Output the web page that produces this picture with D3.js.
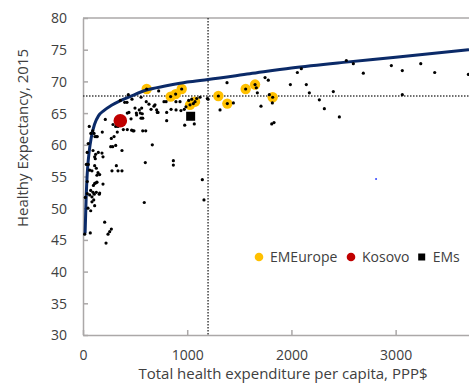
<!DOCTYPE html>
<html>
<head>
<meta charset="utf-8">
<script src="https://cdn.jsdelivr.net/npm/d3@7"></script>
<style>
  html, body { margin: 0; padding: 0; background: #fff; }
  svg { display: block; font-family: "Open Sans", "Noto Sans", sans-serif; }
</style>
</head>
<body>
<svg id="chart" width="469" height="387"></svg>
<script>
// Total health expenditure per capita (PPP$) vs healthy life expectancy, 2015
const allCountries = [
  [16,45.9],[70,46.1],[240,45.9],[256,46.3],[272,46.7],[208,47.8],[221,44.5],
  [48,50.0],[74,49.6],[112,50.4],[22,51.7],[86,51.0],[103,51.3],[86,51.8],[64,52.1],
  [74,52.8],[96,52.5],[128,52.5],[160,52.4],[41,52.3],[108,52.2],[156,52.2],
  [41,54.2],[112,53.9],[134,54.1],[192,53.8],[125,54.0],[100,53.6],
  [32,56.9],[64,56.0],[86,55.9],[112,56.7],[128,56.3],[144,55.6],[160,55.3],[134,55.2],[51,56.9],
  [96,59.1],[112,58.1],[118,57.8],[182,58.7],[192,58.1],[121,58.5],[147,58.8],[40,58.8],[50,60.2],
  [266,59.7],[314,59.9],[374,59.1],[285,59.7],
  [320,56.7],[278,55.9],[336,55.9],[374,55.9],
  [665,60.0],[598,57.2],[867,57.5],[867,56.8],[1145,54.5],[1161,51.3],[588,50.9],
  [93,62.2],[115,61.3],[137,61.3],[185,62.0],[128,61.3],[60,62.9],[75,61.8],[106,61.8],
  [214,64.0],[288,63.2],[336,62.9],[314,62.9],[329,62.0],
  [387,62.4],[467,62.3],[489,62.2],[573,62.2],[602,62.2],[425,62.4],[480,62.2],
  [272,61.0],[298,61.3],
  [358,67.0],[400,66.7],[422,66.7],[470,67.2],[435,67.9],[557,67.5],
  [607,66.8],[633,66.4],[681,66.1],[707,65.5],[720,65.1],
  [441,65.1],[512,65.0],[569,64.9],[550,65.0],[425,65.0],[499,65.8],[540,65.5],[563,65.8],
  [515,64.7],[573,64.2],[557,64.2],[461,64.1],
  [726,68.5],[777,66.8],[797,66.8],[892,66.8],[931,66.8],
  [653,65.6],[691,66.3],[845,65.6],[893,65.5],[940,65.4],[972,65.6],[988,66.0],
  [1014,67.0],[1043,67.2],[1059,66.5],[1091,67.3],[1123,67.5],[1193,67.3],[1200,67.2],
  [803,65.1],[713,65.1],[803,63.8],[976,63.1],[1068,63.3],
  [611,68.8],[841,67.6],[889,68.0],[947,68.8],[1027,66.3],[1075,66.8],
  [1299,67.7],[1385,66.5],[1561,68.8],[1651,69.5],[1820,67.5],
  [1382,69.8],[1315,65.5],[1443,66.6],[1673,68.2],[1663,69.0],[1708,66.1],[1747,70.6],
  [1778,70.2],[1817,66.6],[1788,67.9],[1811,63.3],[1833,63.5],[1990,69.5],[2057,71.4],
  [2095,72.0],[2143,69.5],[2172,68.2],[2268,67.1],[2316,65.7],[2402,68.4],[2460,64.4],
  [2527,73.3],[2594,72.8],[2690,71.3],[2959,72.5],[3064,71.7],[3064,67.9],[3241,72.8],
  [3375,71.4],[3698,71.1]
];

// Emerging Europe
const emEurope = [
  [611,68.8],[841,67.6],[889,68.0],[947,68.8],[1027,66.3],[1075,66.8],
  [1299,67.7],[1385,66.5],[1561,68.8],[1651,69.5],[1820,67.5]
];

const kosovo = [[358,63.8]];
const emAverage = [[1033,64.5]];
const stray = [[2812,54.6]];

// Fitted frontier
const frontier = [
  [20,46.0],[30,51.5],[40,55.3],[60,59.0],[80,61.2],[110,63.2],[150,64.6],[200,65.4],
  [270,66.2],[350,66.9],[450,67.6],[600,68.6],[800,69.3],[1000,69.9],[1200,70.3],
  [1600,71.2],[2000,72.1],[2500,73.0],[3000,73.8],[3704,75.0]
];

// Reference lines: expenditure and life expectancy thresholds
const xRef = 1200;
const yRef = 67.7;

const xTicks = [0, 1000, 2000, 3000];
const yTicks = [30, 35, 40, 45, 50, 55, 60, 65, 70, 75, 80];

const legendItems = [
  { label: "EMEurope", kind: "circle", color: "#FFC000" },
  { label: "Kosovo", kind: "circle", color: "#C00000" },
  { label: "EMs", kind: "square", color: "#000000" }
];

const svg = d3.select("#chart");
const x = d3.scaleLinear().domain([0, 3704]).range([83, 469]);
const y = d3.scaleLinear().domain([30, 80]).range([335, 18]);

const axisColor = "#ABA8A8";
const textColor = "#404040";

// top frame
svg.append("line")
  .attr("x1", x(0)).attr("x2", x(3704))
  .attr("y1", y(80)).attr("y2", y(80))
  .attr("stroke", axisColor).attr("stroke-width", 1.5);

// axes
const yAxis = svg.append("g")
  .attr("transform", `translate(${x(0)},0)`)
  .call(d3.axisLeft(y).tickValues(yTicks).tickSizeInner(-5).tickSizeOuter(0).tickPadding(16));
const xAxis = svg.append("g")
  .attr("transform", `translate(0,${y(30)})`)
  .call(d3.axisBottom(x).tickValues(xTicks).tickFormat(d3.format("d"))
    .tickSizeInner(-5).tickSizeOuter(0).tickPadding(15));

[yAxis, xAxis].forEach(g => {
  g.select(".domain").attr("stroke", axisColor).attr("stroke-width", 1.5);
  g.selectAll(".tick line").attr("stroke", axisColor).attr("stroke-width", 1.5);
  g.selectAll(".tick text")
    .attr("fill", textColor)
    .style("font-size", "14px")
    .style("font-family", "'Open Sans', 'Noto Sans', sans-serif");
});
yAxis.selectAll(".tick text").attr("dy", "0.35em");

// dotted reference lines
svg.append("line")
  .attr("x1", x(xRef)).attr("x2", x(xRef))
  .attr("y1", y(80)).attr("y2", y(30))
  .attr("stroke", "#404040").attr("stroke-width", 1.5)
  .attr("stroke-dasharray", "1.5,1.5");
svg.append("line")
  .attr("x1", x(0)).attr("x2", x(3704))
  .attr("y1", y(yRef)).attr("y2", y(yRef))
  .attr("stroke", "#404040").attr("stroke-width", 1.5)
  .attr("stroke-dasharray", "1.5,1.5");

// Emerging Europe markers
svg.append("g").selectAll("circle")
  .data(emEurope).join("circle")
  .attr("cx", d => x(d[0])).attr("cy", d => y(d[1]))
  .attr("r", 5.2).attr("fill", "#FFC000");

// frontier curve
svg.append("path")
  .datum(frontier)
  .attr("d", d3.line().x(d => x(d[0])).y(d => y(d[1])).curve(d3.curveMonotoneX))
  .attr("fill", "none").attr("stroke", "#0B2A68").attr("stroke-width", 3);

// all countries
svg.append("g").selectAll("circle")
  .data(allCountries).join("circle")
  .attr("cx", d => x(d[0])).attr("cy", d => y(d[1]))
  .attr("r", 1.6).attr("fill", "#000");

svg.append("g").selectAll("circle")
  .data(stray).join("circle")
  .attr("cx", d => x(d[0])).attr("cy", d => y(d[1]))
  .attr("r", 1).attr("fill", "#3344ff");

// Kosovo
svg.append("g").selectAll("circle")
  .data(kosovo).join("circle")
  .attr("cx", d => x(d[0])).attr("cy", d => y(d[1]))
  .attr("r", 6.8).attr("fill", "#C00000");

// EM average
svg.append("g").selectAll("rect")
  .data(emAverage).join("rect")
  .attr("x", d => x(d[0]) - 4.5).attr("y", d => y(d[1]) - 4.5)
  .attr("width", 9).attr("height", 9).attr("fill", "#000");

// legend
const legendPos = [259, 351, 421.7];
const legend = svg.append("g").attr("transform", "translate(0,257)");
legendItems.forEach((it, i) => {
  const cx = legendPos[i];
  if (it.kind === "circle") {
    legend.append("circle").attr("cx", cx).attr("cy", 0).attr("r", 4.3).attr("fill", it.color);
  } else {
    legend.append("rect").attr("x", cx - 3.5).attr("y", -3.5).attr("width", 7).attr("height", 7).attr("fill", it.color);
  }
  legend.append("text")
    .attr("x", cx + 11).attr("y", 5)
    .attr("fill", textColor)
    .style("font-size", "14px")
    .text(it.label);
});

// axis titles
svg.append("text")
  .attr("x", 283).attr("y", 379)
  .attr("text-anchor", "middle")
  .attr("fill", textColor)
  .style("font-size", "15px")
  .text("Total health expenditure per capita, PPP$");

svg.append("text")
  .attr("transform", "translate(28,138) rotate(-90)")
  .attr("text-anchor", "middle")
  .attr("fill", textColor)
  .style("font-size", "15px")
  .text("Healthy Expectancy, 2015");
</script>
</body>
</html>
